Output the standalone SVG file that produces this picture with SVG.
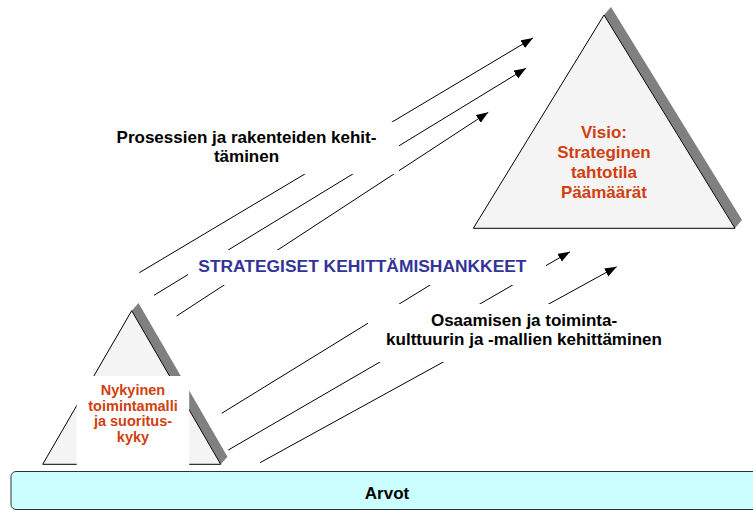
<svg xmlns="http://www.w3.org/2000/svg" width="753" height="511" viewBox="0 0 753 511">
<style>
.t{font-family:"Liberation Sans",Arial,sans-serif;font-weight:bold;}
.red{fill:#D04010;font-size:17px;text-anchor:middle;}
.redS{fill:#D04010;font-size:14.5px;text-anchor:middle;}
.blk{fill:#000;font-size:17px;text-anchor:middle;}
.blue{fill:#333399;font-size:17.4px;}
.tri{fill:#F4F4F4;stroke:#000;stroke-width:1;}
.shadow{fill:#808080;}
.con{stroke:#000;stroke-width:1;fill:none;}
.lab{fill:#fff;}
</style>
<defs>
<marker id="arr" markerUnits="userSpaceOnUse" markerWidth="13" markerHeight="10" refX="12" refY="4.5" orient="auto">
<path d="M0,0 L12,4.5 L0,9 z" fill="#000"/>
</marker>
</defs>
<rect width="753" height="511" fill="#fff"/>

<g id="arvot">
<rect x="11" y="471.5" width="800" height="38" rx="5" fill="#CCFFFF" stroke="#333" stroke-width="1"/>
<text class="t blk" x="387" y="499.3">Arvot</text>
</g>

<g id="visio">
<polygon class="shadow" points="611,7 742,220 735,228 604,15"/>
<polygon class="tri" points="604,15 735,228.3 473.3,228.3"/>
<text class="t red" x="604" y="138.3">Visio:</text>
<text class="t red" x="604" y="158.3">Strateginen</text>
<text class="t red" x="604" y="178.3">tahtotila</text>
<text class="t red" x="604" y="198.3">Päämäärät</text>
</g>

<g id="nykyinen">
<polygon class="shadow" points="138.5,303 227.5,456.7 220.7,464.3 131.7,310.7"/>
<polygon class="tri" points="131.7,310.7 220.7,464.3 42.7,464.3"/>
<rect x="76.7" y="376" width="112.5" height="89.5" fill="#fff"/>
<text class="t redS" x="133" y="395">Nykyinen</text>
<text class="t redS" x="133" y="410.7">toimintamalli</text>
<text class="t redS" x="133" y="426">ja suoritus-</text>
<text class="t redS" x="133" y="441.5">kyky</text>
</g>

<g id="connectors">
<line class="con" x1="139.3" y1="272.7" x2="533" y2="38" marker-end="url(#arr)"/>
<line class="con" x1="154" y1="295.3" x2="526" y2="68.3" marker-end="url(#arr)"/>
<line class="con" x1="176.7" y1="316" x2="488.3" y2="112.3" marker-end="url(#arr)"/>
<line class="con" x1="221.7" y1="413.3" x2="465" y2="263.5"/>
<line class="con" x1="228.3" y1="450" x2="570" y2="251.7" marker-end="url(#arr)"/>
<line class="con" x1="260" y1="462.7" x2="616.7" y2="266.7" marker-end="url(#arr)"/>
</g>

<g id="label-prosessit">
<rect class="lab" x="108" y="122" width="291" height="52"/>
<text class="t blk" x="246.5" y="142.7">Prosessien ja rakenteiden kehit-</text>
<text class="t blk" x="246.5" y="161.7">täminen</text>
</g>

<g id="label-hankkeet">
<rect class="lab" x="188" y="250" width="358" height="35"/>
<text class="t blue" x="198.3" y="271.7">STRATEGISET KEHITTÄMISHANKKEET</text>
</g>

<g id="label-osaaminen">
<rect class="lab" x="368" y="304" width="302" height="58"/>
<text class="t blk" x="524" y="326">Osaamisen ja toiminta-</text>
<text class="t blk" x="524" y="345">kulttuurin ja -mallien kehittäminen</text>
</g>
</svg>
